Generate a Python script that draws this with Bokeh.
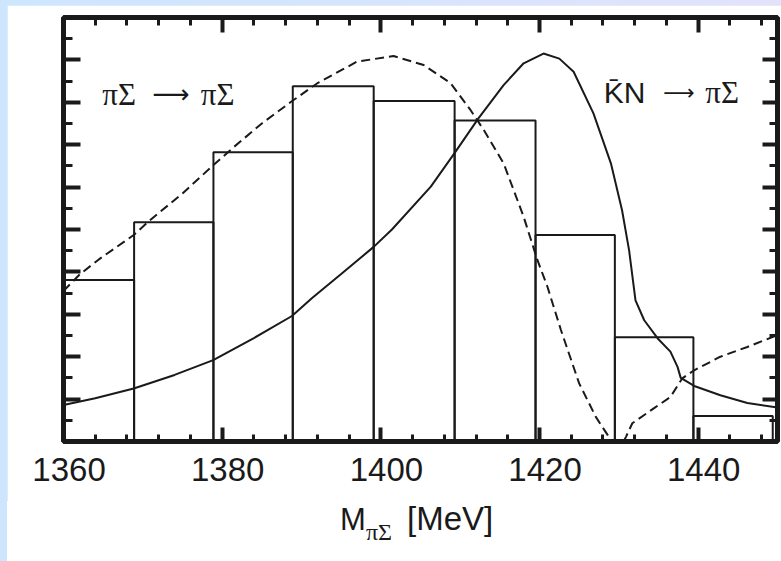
from bokeh.plotting import figure
from bokeh.models import LinearAxis, SingleIntervalTicker, Label, CustomJSTickFormatter, Range1d, Div
from bokeh.layouts import column
from bokeh.embed import file_html
from bokeh.resources import INLINE

# ---------------- data ----------------
x_ticks = [1360, 1380, 1400, 1420, 1440]

bin_edges = [1358.8, 1368.9, 1378.9, 1388.9, 1399.1, 1409.3, 1419.5, 1429.5, 1439.4, 1449.4]
bin_counts = [3.81, 5.17, 6.82, 8.38, 8.03, 7.57, 4.87, 2.46, 0.60]

kbarn_x = [1360, 1364, 1368.85, 1374, 1378.87, 1384, 1388.8, 1391.3, 1395, 1399.1, 1401.4,
           1406.3, 1409.4, 1412.3, 1415.5, 1418, 1420.5, 1422.5, 1424.3, 1426.8, 1429, 1430.4,
           1431.3, 1432.1, 1433.2, 1434.9, 1436.5, 1437.4, 1437.8, 1439.5, 1442.8, 1446.2, 1450]
kbarn_y = [0.86, 1.02, 1.25, 1.57, 1.92, 2.44, 2.96, 3.38, 3.95, 4.59, 5.0,
           6.01, 6.83, 7.62, 8.41, 8.92, 9.15, 9.03, 8.72, 7.74, 6.56, 5.46,
           4.5, 3.33, 2.86, 2.43, 2.12, 1.76, 1.5, 1.31, 1.09, 0.91, 0.80]

pisig_x = [1360, 1362.1, 1364.5, 1368.85, 1370.9, 1375, 1378.9, 1381.5, 1385, 1388.6, 1392,
           1397, 1401.6, 1405.4, 1408.8, 1411.3, 1413, 1415.5, 1418, 1419.7, 1421, 1422.7,
           1425, 1427.1, 1428.6, 1429.1, 1430.6, 1430.9, 1431.7, 1434.4, 1436.5, 1438,
           1439.5, 1442.8, 1446.2, 1450]
pisig_y = [3.55, 3.95, 4.3, 4.87, 5.22, 5.85, 6.52, 6.95, 7.5, 8.0, 8.45,
           8.96, 9.09, 8.88, 8.45, 7.82, 7.34, 6.55, 5.3, 4.3, 3.65, 2.63,
           1.37, 0.58, 0.15, 0.0, 0.0, 0.11, 0.43, 0.78, 1.05, 1.49,
           1.68, 2.0, 2.23, 2.51]

channel_a = "πΣ"
channel_b = "K\u0304N"
arrow = "⟶"
xlabel_main = "M"
xlabel_sub = "πΣ"
xlabel_unit = "[MeV]"

# ---------------- figure ----------------
INK = "#1a1a1a"
SANS = "Liberation Sans"
SERIF = "Liberation Serif"

p = figure(width=774, height=496, x_range=(1360, 1450), y_range=(0, 10),
           output_backend="svg", toolbar_location=None,
           x_axis_location=None, y_axis_location=None,
           min_border_left=56, min_border_right=4, min_border_top=12, min_border_bottom=60,
           background_fill_color="white", border_fill_color="white")
p.margin = (5, 0, 0, 7)
p.xgrid.visible = False
p.ygrid.visible = False
p.outline_line_color = INK
p.outline_line_width = 5
p.extra_x_ranges = {"lab": Range1d(1360 - 0.7, 1450 - 0.7)}

blank = CustomJSTickFormatter(code="return ''")


def style_axis(ax, major_in, minor_in):
    ax.axis_line_color = None
    ax.major_tick_in = major_in
    ax.major_tick_out = 0
    ax.minor_tick_in = minor_in
    ax.minor_tick_out = 0
    ax.major_tick_line_color = INK
    ax.minor_tick_line_color = INK
    ax.major_tick_line_width = 4
    ax.minor_tick_line_width = 3
    ax.major_label_text_font_size = "0px"
    ax.major_label_standoff = 0


xb = LinearAxis(ticker=SingleIntervalTicker(interval=20, num_minor_ticks=5), formatter=blank)
style_axis(xb, 14, 7)
p.add_layout(xb, "below")

# tick labels (slightly offset to the right, as in the original)
xl = LinearAxis(x_range_name="lab", ticker=x_ticks)
xl.axis_line_color = None
xl.major_tick_line_color = None
xl.minor_tick_line_color = None
xl.major_tick_in = 0
xl.major_tick_out = 0
xl.major_label_overrides = {t: str(t) for t in x_ticks}
xl.major_label_text_font = SANS
xl.major_label_text_font_size = "33px"
xl.major_label_text_color = INK
xl.major_label_standoff = 16
p.add_layout(xl, "below")

xt = LinearAxis(ticker=SingleIntervalTicker(interval=20, num_minor_ticks=5), formatter=blank)
style_axis(xt, 15, 8)
p.add_layout(xt, "above")

yl = LinearAxis(ticker=SingleIntervalTicker(interval=1, num_minor_ticks=2), formatter=blank)
style_axis(yl, 17, 9)
p.add_layout(yl, "left")

yr = LinearAxis(ticker=SingleIntervalTicker(interval=1, num_minor_ticks=2), formatter=blank)
style_axis(yr, 15, 8)
p.add_layout(yr, "right")

# histogram
p.quad(left=bin_edges[:-1], right=bin_edges[1:], top=bin_counts, bottom=0,
       fill_color=None, line_color=INK, line_width=2)

# curves
p.line(kbarn_x, kbarn_y, line_color=INK, line_width=2)
p.line(pisig_x, pisig_y, line_color=INK, line_width=2, line_dash="9 5")


def lab(x, y, text, font, size):
    p.add_layout(Label(x=x, y=y, text=text, text_font=font, text_font_size=size,
                       text_color=INK, text_baseline="alphabetic"))


# πΣ → πΣ
lab(1364.9, 8.19, channel_a, SERIF, "31px")
lab(1371.2, 8.19, arrow, "DejaVu Sans", "26px")
lab(1377.3, 8.19, channel_a, SERIF, "31px")
# K̄N → πΣ
lab(1428.1, 8.22, channel_b, SANS, "30px")
lab(1435.6, 8.22, arrow, "DejaVu Sans", "22px")
lab(1440.9, 8.22, channel_a, SERIF, "31px")

xlabel_html = (
    '<div style="position:relative;width:774px;height:60px;background:#ffffff;">'
    f'<span style="position:absolute;left:333px;top:3px;line-height:1;white-space:nowrap;'
    f'font-family:\'{SANS}\';font-size:31px;color:{INK}">{xlabel_main}</span>'
    f'<span style="position:absolute;left:359px;top:19px;line-height:1;white-space:nowrap;'
    f'font-family:\'{SERIF}\';font-size:24px;color:{INK}">{xlabel_sub}</span>'
    f'<span style="position:absolute;left:400px;top:1px;line-height:1;white-space:nowrap;'
    f'font-family:\'{SANS}\';font-size:33px;color:{INK}">{xlabel_unit}</span>'
    '</div>'
)
div = Div(text=xlabel_html, width=774, height=60, margin=(0, 0, 0, 7),
          styles={"background-color": "#ffffff"})

layout = column(p, div, width=781, height=561, spacing=0,
                styles={"background": "linear-gradient(90deg, #cde6fe 0%, #d6e5fd 50%, #e3e2fb 100%)"})

open("out.html", "w").write(file_html(layout, INLINE))
